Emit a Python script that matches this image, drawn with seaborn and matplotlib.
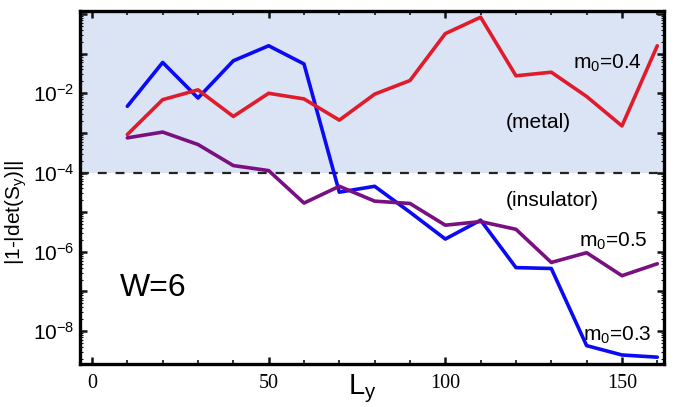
import numpy as np
import pandas as pd
import matplotlib
matplotlib.use("Agg")
import matplotlib.pyplot as plt
import matplotlib.ticker as mticker
import seaborn as sns

# ---- data ----
L_y = [10, 20, 30, 40, 50, 60, 70, 80, 90, 100, 110, 120, 130, 140, 150, 160]
m03 = [4.7e-3, 6.0e-2, 7.6e-3, 6.6e-2, 1.58e-1, 5.5e-2, 3.2e-5, 4.5e-5, 1.0e-5,
       2.1e-6, 6.3e-6, 4.0e-7, 3.8e-7, 4.3e-9, 2.5e-9, 2.2e-9]
m04 = [9.1e-4, 6.9e-3, 1.22e-2, 2.6e-3, 1.0e-2, 7.2e-3, 2.1e-3, 9.5e-3, 2.1e-2,
       3.2e-1, 8.3e-1, 2.76e-2, 3.4e-2, 8.3e-3, 1.5e-3, 1.58e-1]
m05 = [7.5e-4, 1.05e-3, 5.1e-4, 1.5e-4, 1.12e-4, 1.7e-5, 4.5e-5, 1.9e-5, 1.66e-5,
       4.7e-6, 5.8e-6, 3.7e-6, 5.4e-7, 9.5e-7, 2.5e-7, 5.0e-7]
series_names = ["m0=0.3", "m0=0.4", "m0=0.5"]
threshold = 1e-4
xtick_vals = [0, 50, 100, 150]
xtick_labels = ["0", "50", "100", "150"]
ytick_vals = [1e-8, 1e-7, 1e-6, 1e-5, 1e-4, 1e-3, 1e-2, 1e-1, 1e0]
ytick_labels = ["$10^{-8}$", "", "$10^{-6}$", "", "$10^{-4}$", "", "$10^{-2}$", "", ""]

df = pd.DataFrame({
    "L": L_y * 3,
    "val": m03 + m04 + m05,
    "series": [series_names[0]] * len(L_y) + [series_names[1]] * len(L_y) + [series_names[2]] * len(L_y),
})

sns.set_style("ticks")
plt.rcParams["font.family"] = ["Liberation Sans", "DejaVu Sans"]
plt.rcParams["mathtext.fontset"] = "custom"
plt.rcParams["mathtext.rm"] = "Liberation Sans"
plt.rcParams["mathtext.it"] = "Liberation Sans:italic"
plt.rcParams["mathtext.bf"] = "Liberation Sans:bold"
for k in ["text.color", "axes.labelcolor", "xtick.color", "ytick.color", "axes.edgecolor"]:
    plt.rcParams[k] = "black"

fig = plt.figure(figsize=(6.84, 4.07), dpi=100)
ax = fig.add_axes([80 / 684, 1 - 364 / 407, 584 / 684, 353 / 407])

palette = {series_names[0]: "#0a0af5", series_names[1]: "#e01c2c", series_names[2]: "#7a0f82"}
sns.lineplot(data=df, x="L", y="val", hue="series", palette=palette, linewidth=2.6,
             legend=False, ax=ax, zorder=3)

ax.set_yscale("log")
ax.set_xlim(-3.4, 161.9)
ax.set_ylim(1.48e-9, 1.19)

# metal region shading and threshold line
ax.axhspan(threshold, 10, color="#dbe4f4", zorder=0, lw=0)
ax.axhline(threshold, color="#222222", lw=1.6, ls=(0, (4, 4)), zorder=2)

# ticks
ax.xaxis.set_major_locator(mticker.FixedLocator(xtick_vals))
ax.xaxis.set_major_formatter(mticker.FixedFormatter(xtick_labels))
ax.xaxis.set_minor_locator(mticker.MultipleLocator(10))
ax.yaxis.set_major_locator(mticker.FixedLocator(ytick_vals))
ax.yaxis.set_major_formatter(mticker.FixedFormatter(ytick_labels))
ax.yaxis.set_minor_locator(mticker.LogLocator(base=10, subs=np.arange(2, 10), numticks=20))
ax.yaxis.set_minor_formatter(mticker.NullFormatter())

ax.tick_params(axis="both", which="major", direction="in", top=True, right=True,
               length=5, width=1.8, color="#111111", labelcolor="black")
ax.tick_params(axis="both", which="minor", direction="in", top=True, right=True,
               length=3, width=1.2, color="#111111")
ax.tick_params(axis="y", which="minor", length=2, width=0.8)
ax.tick_params(axis="x", which="major", pad=7)
ax.tick_params(axis="y", which="major", pad=4)
for lab in ax.get_xticklabels():
    lab.set_fontfamily(["Liberation Serif", "DejaVu Serif"])
    lab.set_fontsize(14.5)
for lab in ax.get_yticklabels():
    lab.set_fontsize(15)

for sp in ax.spines.values():
    sp.set_linewidth(2.4)
    sp.set_color("black")
    sp.set_zorder(5)

ax.set_xlabel("")
ax.set_ylabel("")
fig.text(362 / 684, 1 - 389 / 407, "L$_\\mathregular{y}$", fontsize=21, ha="center", va="center")
fig.text(16 / 684, 1 - 212 / 407, "|1-|det(S$_\\mathregular{y}$)||", fontsize=15,
         rotation=90, ha="center", va="center")

def axfrac(px, py):
    return ((px - 80) / 584, (364 - py) / 353)

ann = [
    ("m$_\\mathregular{0}$=0.4", 607, 63, 15),
    ("(metal)", 538, 123, 15),
    ("(insulator)", 552, 201, 15),
    ("m$_\\mathregular{0}$=0.5", 613, 241, 15),
    ("m$_\\mathregular{0}$=0.3", 617, 335, 15),
    ("W=6", 153, 288, 23),
]
for txt, px, py, fs in ann:
    fx, fy = axfrac(px, py)
    ax.text(fx, fy, txt, transform=ax.transAxes, fontsize=fs, ha="center", va="center", zorder=6)

fig.savefig("out.png", dpi=100)
